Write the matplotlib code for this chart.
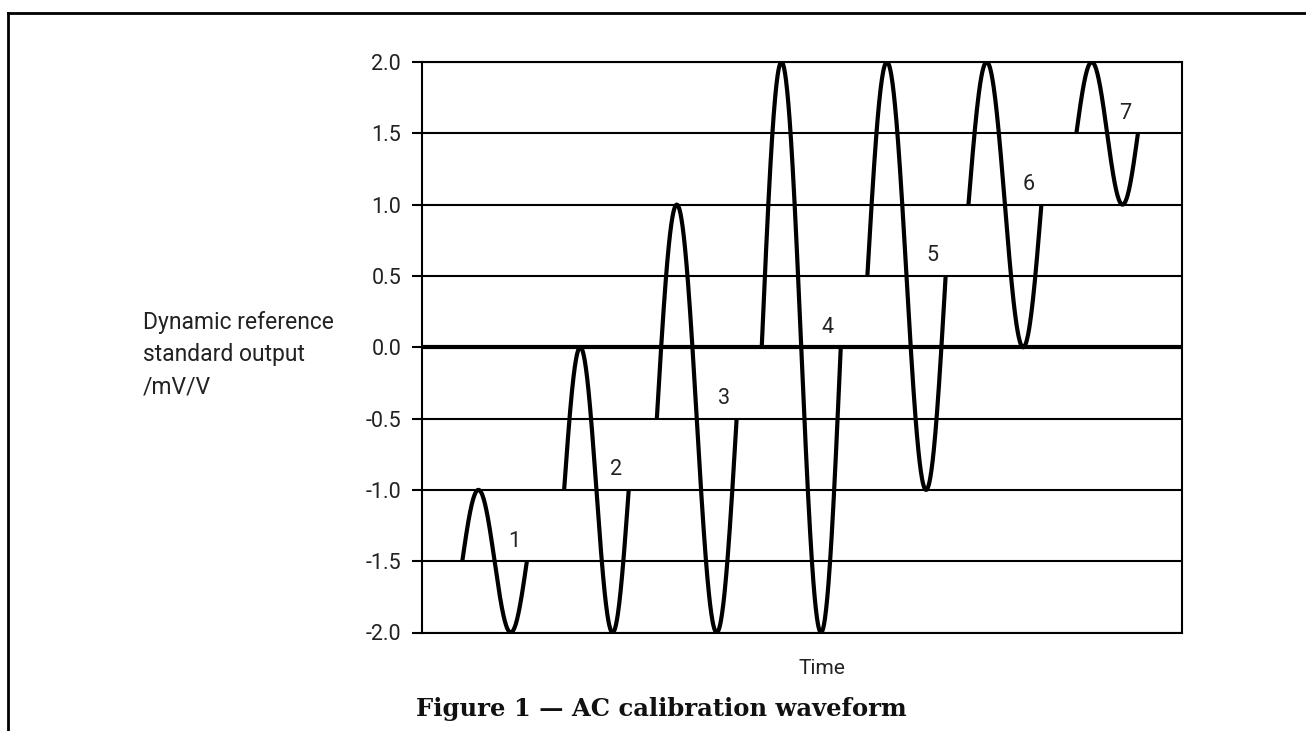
import numpy as np
import matplotlib.pyplot as plt
from matplotlib.lines import Line2D

# waveform segments: offset (mV/V), amplitude, start/end time (arbitrary units)
offsets = [-1.5, -1.0, -0.5, 0.0, 0.5, 1.0, 1.5]
amplitudes = [0.5, 1.0, 1.5, 2.0, 1.5, 1.0, 0.5]
t_start = [0.53, 1.87, 3.09, 4.47, 5.86, 7.19, 8.61]
t_end = [1.38, 2.72, 4.14, 5.51, 6.89, 8.15, 9.42]
seg_labels = ["1", "2", "3", "4", "5", "6", "7"]
y_ticks = [-2.0, -1.5, -1.0, -0.5, 0.0, 0.5, 1.0, 1.5, 2.0]

txt_font = "Roboto"
txt_color = "#222222"

fig = plt.figure(figsize=(13.06, 7.31), dpi=100)
ax = fig.add_axes([422 / 1306, 1 - 632.5 / 731, 760 / 1306, 570.5 / 731])

# horizontal grid lines, zero line heavier
for v in y_ticks:
    ax.axhline(v, color="black", lw=3.0 if v == 0 else 1.5, zorder=1)

# each segment is one sine cycle around its offset
for off, amp, t0, t1, lab in zip(offsets, amplitudes, t_start, t_end, seg_labels):
    t = np.linspace(t0, t1, 200)
    phase = 2 * np.pi * (t - t0) / (t1 - t0)
    ax.plot(t, off + amp * np.sin(phase), color="black", lw=3.0,
            solid_capstyle="butt", zorder=3)
    ax.text(t1 - 0.17, off + 0.14, lab, ha="center", va="center",
            fontsize=15.5, family=txt_font, color=txt_color)

ax.set_xlim(0, 10)
ax.set_ylim(-2.0, 2.0)
ax.set_yticks(y_ticks)
ax.set_yticklabels([f"{v:.1f}" for v in y_ticks], family=txt_font,
                   fontsize=15.5, color=txt_color)
ax.set_xticks([])
ax.tick_params(axis="y", length=7, width=1.5, pad=8)
for s in ax.spines.values():
    s.set_linewidth(1.5)

fig.text(143 / 1306, 1 - 355 / 731,
         "Dynamic reference\nstandard output\n/mV/V",
         ha="left", va="center", fontsize=16.5, family=txt_font,
         color=txt_color, linespacing=1.5)
fig.text(822 / 1306, 1 - 668 / 731, "Time", ha="center", va="center",
         fontsize=15, family=txt_font, color=txt_color)
fig.text(661 / 1306, 1 - 709 / 731, "Figure 1 \u2014 AC calibration waveform",
         ha="center", va="center", fontsize=17.5, family="DejaVu Serif",
         fontweight="bold", color="#111111")

# page frame (top and left)
fig.add_artist(Line2D([8 / 1306, 1.0], [1 - 13 / 731, 1 - 13 / 731],
                      transform=fig.transFigure, color="black", lw=2))
fig.add_artist(Line2D([8 / 1306, 8 / 1306], [0.0, 1 - 13 / 731],
                      transform=fig.transFigure, color="black", lw=2))

fig.savefig("out.png", dpi=100)
